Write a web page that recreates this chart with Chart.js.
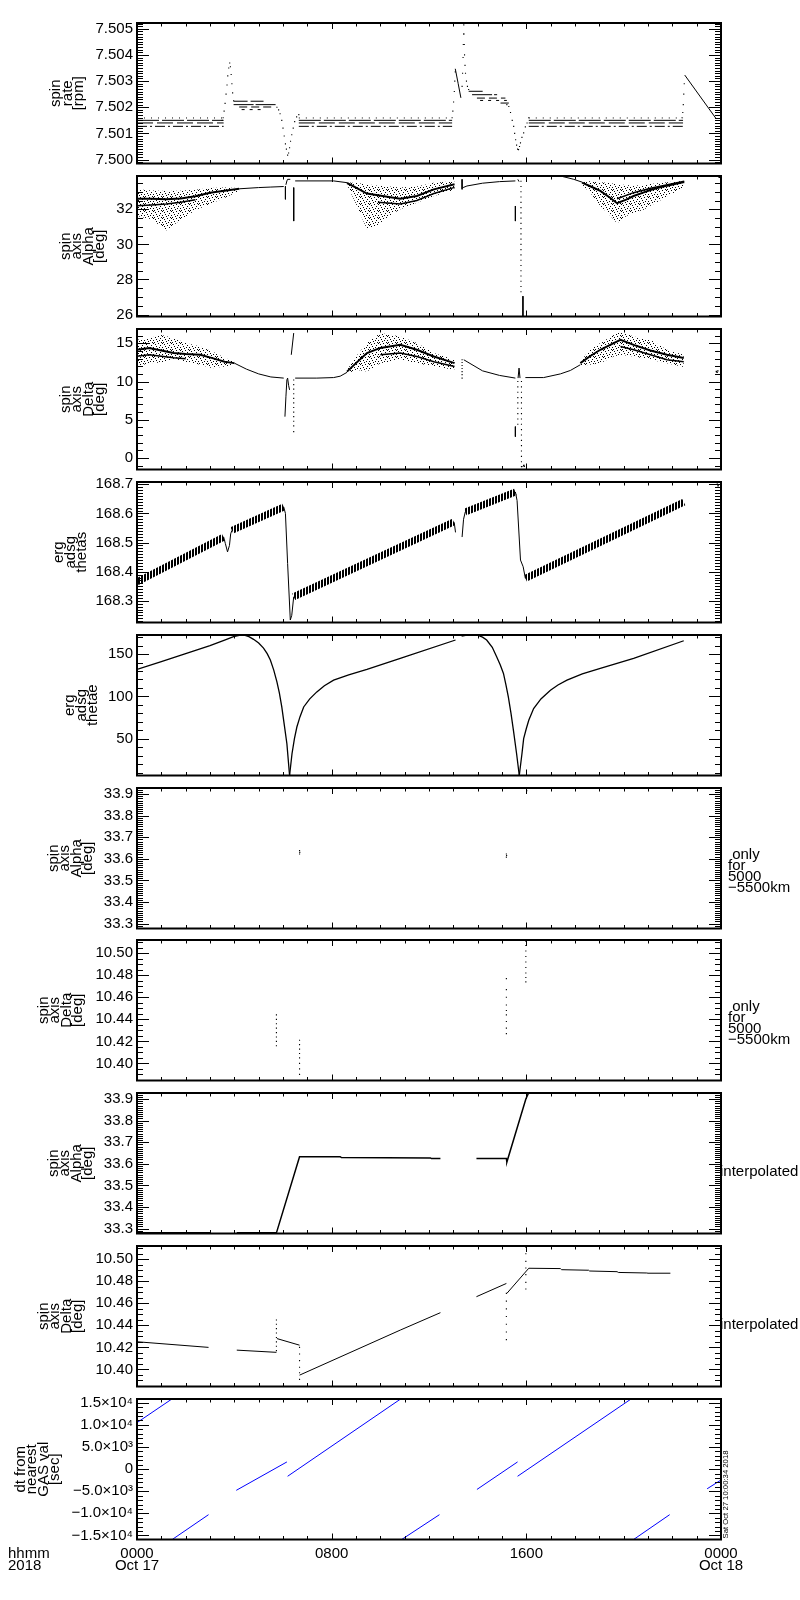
<!DOCTYPE html>
<html>
<head>
<meta charset="utf-8">
<title>ERG spin axis summary 2018-10-17</title>
<script src="https://cdn.jsdelivr.net/npm/chart.js@4.4.0/dist/chart.umd.min.js"></script>
<style>
  html, body { margin: 0; padding: 0; background: #fff; }
  #page { position: relative; width: 800px; height: 1600px; overflow: hidden; background: #fff; }
  #page canvas { position: absolute; left: 0; }
</style>
</head>
<body>
<div id="page"></div>
<script>
// Spin rate / spin axis stack plot, IDL look, redrawn with Chart.js

// ---- time axis (hours since 0000 Oct 17) ----
const HOUR_MIN = 0;
const HOUR_MAX = 24;
const X_MAJOR_HOURS = [0, 8, 16, 24];
const X_TICK_LABELS = [['0000', 'Oct 17'], ['0800'], ['1600'], ['0000', 'Oct 18']];
const X_AXIS_NAME = ['hhmm', '2018'];
const STAMP = 'Sat Oct 27 10:00:34 2018';

// ---- panel 1: spin rate [rpm] ----
const RATE_TICKS = [7.500, 7.501, 7.502, 7.503, 7.504, 7.505];
const RATE_RANGE = [7.49985, 7.50522];
const RATE_BAND_LEVELS = [7.50159, 7.50150, 7.50140, 7.50127];
const RATE_BAND_SPANS = [[0, 3.56], [6.65, 12.95], [16.1, 22.44]];
const RATE_STEP_LEVELS = [7.50223, 7.50210, 7.50201, 7.50191, 7.50261, 7.50248, 7.50235, 7.50226, 7.50216];
const RATE_STEP_SPANS = [[3.97, 5.2], [3.97, 5.75], [4.2, 5.6], [4.3, 5.1], [13.63, 14.3], [13.77, 14.8], [13.97, 15.14], [14.1, 15.2], [14.94, 15.28]];
const RATE_DOTS = [
  [3.50, 7.50150], [3.54, 7.50160], [3.58, 7.50185], [3.62, 7.50215], [3.66, 7.50250], [3.70, 7.50285], [3.73, 7.50320],
  [3.77, 7.50350], [3.81, 7.50369], [3.84, 7.50355], [3.87, 7.50325], [3.90, 7.50290], [3.93, 7.50255], [3.97, 7.50225],
  [5.75, 7.50200], [5.82, 7.50190], [5.88, 7.50175], [5.95, 7.50150], [6.00, 7.50120], [6.05, 7.50090], [6.10, 7.50060],
  [6.14, 7.50040], [6.19, 7.50017], [6.23, 7.50025], [6.27, 7.50045], [6.31, 7.50070], [6.36, 7.50095], [6.42, 7.50120],
  [6.48, 7.50145], [6.56, 7.50163], [6.65, 7.50172],
  [12.95, 7.50160], [12.98, 7.50185], [13.01, 7.50220], [13.04, 7.50260], [13.06, 7.50300], [13.08, 7.50335],
  [13.36, 7.50280], [13.38, 7.50330], [13.40, 7.50390], [13.41, 7.50440], [13.42, 7.50480], [13.43, 7.50515], [13.44, 7.50480],
  [13.45, 7.50440], [13.46, 7.50400], [13.48, 7.50360], [13.50, 7.50330], [13.54, 7.50300], [13.58, 7.50280], [13.63, 7.50268],
  [15.20, 7.50210], [15.28, 7.50203], [15.35, 7.50180], [15.42, 7.50150], [15.48, 7.50127], [15.52, 7.50100], [15.56, 7.50076],
  [15.60, 7.50055], [15.64, 7.50040], [15.68, 7.50038], [15.72, 7.50050], [15.76, 7.50064], [15.82, 7.50085], [15.89, 7.50102],
  [15.96, 7.50125], [16.03, 7.50140], [16.10, 7.50160],
  [22.40, 7.50160], [22.43, 7.50180], [22.45, 7.50210], [22.47, 7.50250], [22.49, 7.50290]
];
const RATE_LINES = [
  [[13.08, 7.50347], [13.20, 7.50290], [13.31, 7.50236]],
  [[22.51, 7.50323], [23.81, 7.50155]]
];

// ---- panel 2: spin axis Alpha [deg] ----
const ALPHA_TICKS = [26, 28, 30, 32];
const ALPHA_RANGE = [25.89, 33.9];
const ALPHA_CLOUD_HOURS = [
  [0, 0.6, 1.2, 1.8, 2.4, 3.0, 3.6, 4.2],
  [8.63, 9.0, 9.45, 9.9, 10.35, 10.82, 11.5, 12.2, 13.05],
  [18.29, 18.65, 19.04, 19.4, 19.73, 20.1, 20.41, 20.8, 21.1, 21.5, 21.8, 22.15, 22.49]
];
const ALPHA_CLOUD_UPPER = [
  [33.14, 33.08, 33.05, 33.06, 33.12, 33.22, 33.25, 33.22],
  [33.55, 33.5, 33.43, 33.35, 33.3, 33.24, 33.3, 33.52, 33.6],
  [33.6, 33.6, 33.55, 33.5, 33.43, 33.38, 33.35, 33.38, 33.45, 33.5, 33.55, 33.6, 33.62]
];
const ALPHA_CLOUD_CORE = [
  [32.6, 32.6, 32.57, 32.62, 32.75, 32.95, 33.06, 33.17],
  [33.5, 33.24, 32.9, 32.8, 32.7, 32.6, 32.76, 33.14, 33.43],
  [33.52, 33.3, 33.05, 32.7, 32.35, 32.55, 32.76, 32.95, 33.1, 33.25, 33.35, 33.45, 33.55]
];
const ALPHA_CLOUD_LOWER = [
  [31.62, 31.43, 30.8, 31.4, 31.95, 32.3, 32.65, 33.05],
  [33.4, 32.3, 30.86, 31.1, 31.6, 32.0, 32.38, 32.76, 33.1],
  [33.4, 32.9, 32.19, 31.7, 31.2, 31.6, 31.81, 31.96, 32.2, 32.5, 32.76, 33.0, 33.3]
];
const ALPHA_STREAKS = [
  [[0, 32.2], [0.6, 32.25], [1.2, 32.3], [1.8, 32.4], [2.4, 32.55]],
  [[9.9, 32.4], [10.82, 32.3], [11.5, 32.5], [12.2, 32.9], [13.05, 33.25]],
  [[19.73, 32.6], [20.41, 32.95], [21.1, 33.2], [21.8, 33.4], [22.49, 33.6]]
];
const ALPHA_LINES = [
  [[4.2, 33.17], [5.0, 33.24], [5.5, 33.27], [6.03, 33.3]],
  [[6.1, 33.31], [6.1, 32.57]],
  [[6.12, 33.4], [6.16, 33.62], [6.19, 33.71], [6.3, 33.71]],
  [[6.44, 33.24], [6.44, 31.33]],
  [[6.5, 33.62], [8.08, 33.62], [8.63, 33.52]],
  [[13.36, 33.71], [13.36, 33.14]],
  [[13.4, 33.24], [13.56, 33.33], [14.2, 33.49], [14.9, 33.58], [15.55, 33.62]],
  [[15.55, 32.19], [15.55, 31.33]],
  [[15.65, 33.71], [15.7, 33.58]],
  [[15.86, 27.05], [15.86, 25.9]],
  [[16.51, 33.9], [17.4, 33.9], [17.67, 33.81], [17.95, 33.71], [18.29, 33.55]]
];
const ALPHA_DOT_HOURS = [15.78];
const ALPHA_DOT_VALUES = [[33.9, 33.6, 33.3, 33.0, 32.7, 32.4, 32.1, 31.8, 31.5, 31.2, 30.9, 30.6, 30.3, 30.0, 29.7, 29.4, 29.1, 28.8, 28.5, 28.2, 27.9, 27.6, 27.3]];
const ALPHA_TAIL = [[23.91, 33.87], [23.93, 33.82]];

// ---- panel 3: spin axis Delta [deg] ----
const DELTA_TICKS = [0, 5, 10, 15];
const DELTA_RANGE = [-1.52, 16.88];
const DELTA_CLOUD_HOURS = [
  [0, 0.5, 1.0, 1.5, 2.0, 2.6, 3.1, 3.6, 4.0],
  [8.63, 9.0, 9.45, 10.0, 10.82, 11.5, 12.2, 13.05],
  [18.22, 18.6, 19.04, 19.59, 19.87, 20.41, 21.1, 21.78, 22.47]
];
const DELTA_CLOUD_UPPER = [
  [15.47, 15.7, 16.1, 15.7, 15.04, 14.59, 13.94, 13.1, 12.6],
  [11.5, 13.28, 15.04, 16.35, 15.91, 15.04, 13.73, 12.85],
  [12.6, 14.16, 15.04, 16.1, 16.56, 15.91, 15.47, 14.16, 13.5]
];
const DELTA_CLOUD_CORE = [
  [14.16, 14.4, 14.07, 13.73, 13.6, 13.5, 13.07, 12.6, 12.41],
  [11.3, 12.41, 13.73, 14.4, 14.8, 14.16, 13.28, 12.41],
  [12.41, 13.28, 14.16, 15.04, 15.47, 14.8, 14.07, 13.5, 13.07]
];
const DELTA_CLOUD_LOWER = [
  [11.97, 12.41, 12.5, 12.85, 12.6, 12.2, 11.75, 11.97, 12.2],
  [11.0, 11.54, 11.31, 12.41, 12.85, 12.41, 11.97, 11.54],
  [12.0, 12.2, 12.41, 13.28, 13.5, 13.28, 12.85, 12.41, 11.9]
];
const DELTA_STREAKS = [
  [[0, 13.3], [0.5, 13.5], [1.0, 13.3], [1.5, 13.1], [2.0, 13.0]],
  [[10.0, 13.5], [10.82, 13.73], [11.5, 13.28], [12.2, 12.6], [13.05, 11.97]],
  [[19.87, 14.59], [20.41, 14.16], [21.1, 13.5], [21.78, 12.85], [22.47, 12.6]]
];
const DELTA_LINES = [
  [[4.0, 12.41], [4.5, 11.62], [5.0, 11.0], [5.5, 10.6], [6.03, 10.45]],
  [[6.08, 5.4], [6.12, 8.0], [6.16, 10.22], [6.19, 10.45], [6.23, 9.5], [6.27, 8.91]],
  [[6.34, 13.5], [6.44, 16.35]],
  [[6.5, 10.45], [7.39, 10.45], [8.08, 10.52], [8.35, 10.7], [8.63, 11.2]],
  [[13.43, 12.85], [14.2, 11.4], [14.9, 10.8], [15.55, 10.45]],
  [[15.55, 4.1], [15.55, 2.78]],
  [[15.66, 10.45], [15.70, 11.76], [15.74, 10.45]],
  [[15.85, -1.2], [15.9, -0.9], [15.93, -1.2]],
  [[15.96, 10.52], [16.71, 10.52], [17.4, 11.0], [17.81, 11.45], [18.22, 12.2]]
];
const DELTA_DOT_HOURS = [6.44, 13.36, 15.65, 15.8];
const DELTA_DOT_VALUES = [
  [10.2, 9.6, 9.0, 8.4, 7.8, 7.2, 6.6, 6.0, 5.4, 4.8, 4.2, 3.44],
  [12.85, 12.5, 12.1, 11.7, 11.3, 10.9, 10.45],
  [10.0, 9.3, 8.6, 7.9, 7.2, 6.5, 5.8, 5.1, 4.4],
  [10.0, 9.3, 8.6, 7.9, 7.2, 6.5, 5.8, 5.1, 4.4, 3.7, 3.0, 2.3, 1.6, 0.9, 0.2, -0.5, -1.15]
];
const DELTA_TAIL = [[23.81, 11.31], [23.84, 11.2], [23.87, 11.4]];

// ---- panel 4: erg adsg thetas ----
const THETAS_TICKS = [168.3, 168.4, 168.5, 168.6, 168.7];
const THETAS_RANGE = [168.2255, 168.708];
const THETAS_BANDS = [
  [[0, 168.365], [3.56, 168.519]],
  [[3.9, 168.542], [6.03, 168.622]],
  [[6.44, 168.314], [13.02, 168.571]],
  [[13.49, 168.605], [15.55, 168.674]],
  [[15.96, 168.377], [22.47, 168.639]]
];
const THETAS_LINKS = [
  [[3.56, 168.519], [3.63, 168.497], [3.72, 168.468], [3.8, 168.49], [3.85, 168.53], [3.9, 168.542]],
  [[6.03, 168.622], [6.1, 168.6], [6.19, 168.428], [6.3, 168.234], [6.36, 168.25], [6.44, 168.314]],
  [[13.02, 168.571], [13.05, 168.56], [13.09, 168.535]],
  [[13.36, 168.519], [13.42, 168.58], [13.49, 168.605]],
  [[15.55, 168.674], [15.62, 168.644], [15.76, 168.44], [15.87, 168.417], [15.96, 168.377]]
];
const THETAS_TAIL = [[23.85, 168.70], [23.88, 168.695]];

// ---- panel 5: erg adsg thetae ----
const THETAE_TICKS = [50, 100, 150];
const THETAE_RANGE = [6.5, 172.5];
const THETAE_CURVES = [
  [[0, 131.8], [1, 141], [2, 150.5], [3, 160], [3.6, 166.5], [3.97, 170.5], [4.2, 172.2], [4.38, 172.5], [4.6, 170.5], [4.79, 167.4],
   [5.0, 163], [5.2, 157], [5.35, 150.5], [5.48, 142.9], [5.62, 131], [5.75, 117.1], [5.85, 104], [5.95, 87.5], [6.05, 67], [6.16, 44], [6.27, 6.5]],
  [[6.27, 6.5], [6.37, 32.2], [6.47, 50], [6.57, 63.8], [6.7, 76], [6.85, 87.5], [7.1, 97], [7.39, 105.3], [7.7, 112.5], [8.08, 119.1],
   [8.7, 125.5], [9.45, 131.8], [10.82, 144.9], [13.09, 166.6]],
  [[13.34, 171.3], [13.56, 172.3], [13.97, 172.5], [14.2, 170], [14.37, 166.6], [14.6, 158], [14.78, 146.8], [14.93, 137], [15.06, 127.1],
   [15.16, 114], [15.26, 99.3], [15.37, 80], [15.47, 59.8], [15.6, 32.2], [15.71, 6.5]],
  [[15.71, 6.5], [15.82, 32.2], [15.89, 50], [16.0, 62], [16.1, 71.7], [16.3, 85.6], [16.6, 97], [16.99, 107.3], [17.3, 113.5],
   [17.67, 119.1], [18.3, 126.5], [19.04, 133], [20.41, 144.9], [22.47, 165.7]]
];

// ---- panels 6/7: only for 5000-5500 km ----
const AXIS_ALPHA_TICKS = [33.3, 33.4, 33.5, 33.6, 33.7, 33.8, 33.9];
const AXIS_ALPHA_RANGE = [33.277, 33.928];
const AXIS_DELTA_TICKS = [10.40, 10.42, 10.44, 10.46, 10.48, 10.50];
const AXIS_DELTA_RANGE = [10.3845, 10.512];
const ONLY_ALPHA_MARKS = [[6.68, 33.638], [6.69, 33.63], [6.68, 33.622], [15.18, 33.622], [15.19, 33.615], [15.18, 33.608], [16.0, 33.926], [16.02, 33.915]];
const ONLY_DELTA_DOT_HOURS = [5.73, 6.68, 15.18, 15.98];
const ONLY_DELTA_DOT_VALUES = [
  [10.444, 10.440, 10.436, 10.432, 10.428, 10.424, 10.420, 10.416],
  [10.421, 10.417, 10.413, 10.409, 10.405, 10.400, 10.395, 10.390],
  [10.477, 10.467, 10.460, 10.453, 10.448, 10.444, 10.438, 10.432, 10.427],
  [10.511, 10.507, 10.502, 10.497, 10.492, 10.487, 10.482, 10.478, 10.474]
];

// ---- panels 8/9: interpolated ----
const INTERP_ALPHA_LINES = [
  [[0, 33.28], [3.0, 33.28]],
  [[4.1, 33.28], [5.73, 33.28], [6.68, 33.633], [8.35, 33.633], [8.4, 33.629], [12.06, 33.627], [12.1, 33.624], [12.47, 33.624]],
  [[13.95, 33.624], [15.18, 33.624], [15.2, 33.608], [15.98, 33.9], [16.1, 33.93], [16.85, 33.93]]
];
const INTERP_DELTA_LINES = [
  [[0, 10.4251], [2.94, 10.420]],
  [[4.1, 10.4175], [5.73, 10.4155]],
  [[5.75, 10.428], [6.68, 10.422]],
  [[6.68, 10.3948], [10.82, 10.4357], [12.47, 10.4515]],
  [[13.95, 10.466], [15.18, 10.478]],
  [[15.2, 10.469], [16.1, 10.4918], [17.4, 10.4915], [17.45, 10.4905], [18.56, 10.490], [18.6, 10.4893], [19.73, 10.4887],
   [19.78, 10.488], [20.95, 10.4875], [21.0, 10.4873], [21.92, 10.4873]]
];
const INTERP_DELTA_DOT_HOURS = [5.73, 6.68, 15.18, 15.98];
const INTERP_DELTA_DOT_VALUES = [
  [10.4448, 10.441, 10.437, 10.433, 10.429, 10.425, 10.421, 10.417],
  [10.420, 10.414, 10.408, 10.402, 10.397, 10.391],
  [10.469, 10.462, 10.455, 10.448, 10.441, 10.434, 10.427],
  [10.511, 10.505, 10.498, 10.492, 10.486, 10.479, 10.473]
];

// ---- panel 10: dt from nearest GAS val [sec] ----
const DT_TICKS = [-15000, -10000, -5000, 0, 5000, 10000, 15000];
const DT_TICK_LABELS = ['\u22121.5\u00d710\u2074', '\u22121.0\u00d710\u2074', '\u22125.0\u00d710\u00b3', '0', '5.0\u00d710\u00b3', '1.0\u00d710\u2074', '1.5\u00d710\u2074'];
const DT_RANGE = [-15907, 15839];
const DT_LINES = [
  [[0, 10500], [1.45, 15900]],
  [[1.45, -15900], [2.94, -10300]],
  [[4.08, -4800], [6.16, 1620]],
  [[6.19, -1620], [10.85, 15900]],
  [[10.88, -15900], [12.43, -10300]],
  [[13.97, -4600], [15.64, 1620]],
  [[15.64, -1620], [20.32, 15900]],
  [[20.41, -15900], [21.89, -10300]],
  [[23.43, -4450], [23.97, -2570]]
];

// ---- layout / style ----
const PANEL_TOP0 = 23.3;
const PANEL_STEP = 152.85;
const PANEL_H = 140.5;
const PLOT_LEFT = 137;
const PLOT_RIGHT = 721;
const FAMILY = '"Liberation Sans", Arial, sans-serif';
const FONT = '15px ' + FAMILY;
const BAND_DASHES = [[1, 6], [22, 3], [16, 4], [10, 3, 2, 3]];
const STEP_DASHES = [[14, 3], [20, 2], [8, 4], [3, 5]];

function makePattern(w, h, cells) {
  const c = document.createElement('canvas');
  c.width = w; c.height = h;
  const g = c.getContext('2d');
  g.fillStyle = '#000';
  cells.forEach(([x, y]) => g.fillRect(x, y, 1, 1));
  return g.createPattern(c, 'repeat');
}
// fixed, irregular dot tile standing in for the scattered samples
const SPECKLE = makePattern(9, 7, [[0, 0], [5, 0], [2, 1], [7, 2], [3, 3], [0, 4], [6, 4], [4, 5], [1, 6], [8, 6]]);
const HATCH = makePattern(3, 1, [[0, 0], [1, 0]]);

// ---- dataset helpers ----
const toXY = pts => pts.map(([x, y]) => ({ x, y }));
function lineDs(pts, extra) {
  return Object.assign({ data: toXY(pts), borderColor: '#000', borderWidth: 1, pointRadius: 0, fill: false, tension: 0 }, extra || {});
}
function dotDs(pts, r) {
  return { data: toXY(pts), showLine: false, pointRadius: r || 0.8, pointStyle: 'rect',
           pointBackgroundColor: '#000', pointBorderWidth: 0, borderColor: 'transparent', borderWidth: 0 };
}
function column(h, values) { return values.map(v => [h, v]); }
function cloudDs(hours, upper, lower) {
  return [
    { data: toXY(hours.map((h, k) => [h, upper[k]])), borderColor: 'transparent', borderWidth: 0, pointRadius: 0, fill: '+1', backgroundColor: SPECKLE },
    { data: toXY(hours.map((h, k) => [h, lower[k]])), borderColor: 'transparent', borderWidth: 0, pointRadius: 0, fill: false }
  ];
}
function scatterPanel(cHours, cUpper, cCore, cLower, streaks, lines, dotHours, dotValues, tail) {
  const ds = [];
  lines.forEach(l => ds.push(lineDs(l)));
  dotHours.forEach((h, k) => ds.push(dotDs(column(h, dotValues[k]))));
  ds.push(dotDs(tail, 1));
  cHours.forEach((hrs, k) => ds.push(lineDs(hrs.map((h, j) => [h, cCore[k][j]]), { borderWidth: 2 })));
  streaks.forEach(s => ds.push(lineDs(s, { borderWidth: 1.5 })));
  cHours.forEach((hrs, k) => ds.push(...cloudDs(hrs, cUpper[k], cLower[k])));
  return ds;
}

// ---- IDL style frame: box, inward ticks, titles, notes ----
function idlFrame(cfg) {
  return {
    id: 'idlFrame',
    afterDraw(chart) {
      const ctx = chart.ctx;
      const a = chart.chartArea;
      const xs = chart.scales.x, ys = chart.scales.y;
      ctx.save();
      ctx.strokeStyle = '#000';
      ctx.fillStyle = '#000';
      ctx.lineWidth = 1;
      ctx.beginPath();
      for (let h = HOUR_MIN; h <= HOUR_MAX; h++) {
        const px = Math.round(xs.getPixelForValue(h)) + 0.5;
        const len = X_MAJOR_HOURS.includes(h) ? 6 : 3.5;
        ctx.moveTo(px, a.top); ctx.lineTo(px, a.top + len);
        ctx.moveTo(px, a.bottom); ctx.lineTo(px, a.bottom - len);
      }
      const step = +(cfg.ticks[1] - cfg.ticks[0]).toPrecision(6);
      const ms = step / cfg.minor;
      const k0 = Math.ceil(ys.min / ms - 1e-6), k1 = Math.floor(ys.max / ms + 1e-6);
      for (let k = k0; k <= k1; k++) {
        const r = k / cfg.minor;
        const major = Math.abs(r - Math.round(r)) < 1e-6;
        const py = Math.round(ys.getPixelForValue(k * ms)) + 0.5;
        const len = major ? 12 : 6;
        ctx.moveTo(a.left, py); ctx.lineTo(a.left + len, py);
        ctx.moveTo(a.right, py); ctx.lineTo(a.right - len, py);
      }
      ctx.stroke();
      ctx.lineWidth = 2;
      ctx.strokeRect(a.left, a.top, a.right - a.left, a.bottom - a.top);

      // rotated multi-line y title
      ctx.font = FONT;
      ctx.textAlign = 'center';
      ctx.textBaseline = 'alphabetic';
      const cy = (a.top + a.bottom) / 2;
      cfg.title.forEach((line, i) => {
        const bx = cfg.titleX - (cfg.title.length - 1 - i) * 11.5;
        ctx.save();
        ctx.translate(bx, cy);
        ctx.rotate(-Math.PI / 2);
        ctx.fillText(line, 0, 0);
        ctx.restore();
      });

      // right side notes
      if (cfg.note) {
        ctx.textAlign = 'left';
        ctx.textBaseline = 'middle';
        cfg.note.forEach((line, j) => ctx.fillText(line, cfg.noteX, a.top + cfg.noteY + j * 11));
      }

      // time labels under the last panel
      if (cfg.xLabels) {
        ctx.textAlign = 'center';
        ctx.textBaseline = 'middle';
        X_MAJOR_HOURS.forEach((h, k) => {
          X_TICK_LABELS[k].forEach((s, j) => ctx.fillText(s, xs.getPixelForValue(h), a.bottom + 14 + j * 12));
        });
        ctx.textAlign = 'left';
        X_AXIS_NAME.forEach((s, j) => ctx.fillText(s, 8, a.bottom + 14 + j * 12));
        ctx.save();
        ctx.translate(a.right + 7, a.bottom - 1);
        ctx.rotate(-Math.PI / 2);
        ctx.font = '8px ' + FAMILY;
        ctx.textBaseline = 'alphabetic';
        ctx.fillText(STAMP, 0, 0, 88);
        ctx.restore();
      }
      ctx.restore();
    }
  };
}

// ---- one chart per panel ----
function addPanel(i, cfg) {
  const top = Math.round(PANEL_TOP0 + i * PANEL_STEP);
  const canvasTop = top - 14;
  const canvasH = i === 9 ? 1600 - canvasTop : 180;
  const cv = document.createElement('canvas');
  cv.width = 800;
  cv.height = canvasH;
  cv.style.top = canvasTop + 'px';
  cv.style.width = '800px';
  cv.style.height = canvasH + 'px';
  document.getElementById('page').appendChild(cv);
  return new Chart(cv, {
    type: 'line',
    data: { datasets: cfg.datasets },
    options: {
      responsive: false,
      animation: false,
      events: [],
      layout: { padding: { top: 14, bottom: canvasH - 14 - PANEL_H, left: 0, right: 800 - PLOT_RIGHT } },
      plugins: { legend: { display: false }, tooltip: { enabled: false } },
      scales: {
        x: { type: 'linear', min: HOUR_MIN, max: HOUR_MAX, display: false },
        y: {
          type: 'linear',
          min: cfg.range[0],
          max: cfg.range[1],
          afterFit: s => { s.width = PLOT_LEFT; },
          afterBuildTicks: s => { s.ticks = cfg.ticks.map(v => ({ value: v })); },
          grid: { display: false, drawTicks: false },
          border: { display: false },
          ticks: { autoSkip: false, padding: 4, color: '#000', font: { family: FAMILY, size: 15 }, callback: cfg.fmt }
        }
      }
    },
    plugins: [idlFrame(cfg)]
  });
}

// panel 1 datasets
const rateSets = [];
RATE_LINES.forEach(l => rateSets.push(lineDs(l)));
rateSets.push(dotDs(RATE_DOTS));
RATE_BAND_SPANS.forEach(([h0, h1]) => {
  RATE_BAND_LEVELS.forEach((v, k) => rateSets.push(lineDs([[h0, v], [h1, v]], { borderDash: BAND_DASHES[k] })));
});
RATE_STEP_LEVELS.forEach((v, k) => {
  const [h0, h1] = RATE_STEP_SPANS[k];
  rateSets.push(lineDs([[h0, v], [h1, v]], { borderDash: STEP_DASHES[k % STEP_DASHES.length] }));
});

// panel 4 datasets
const thetasSets = [];
THETAS_LINKS.forEach(l => thetasSets.push(lineDs(l)));
thetasSets.push(dotDs(THETAS_TAIL, 1));
THETAS_BANDS.forEach(b => thetasSets.push(lineDs(b, { borderWidth: 7, borderColor: HATCH })));

// panel 7 / 9 dots
const onlyDeltaSets = ONLY_DELTA_DOT_HOURS.map((h, k) => dotDs(column(h, ONLY_DELTA_DOT_VALUES[k])));
const interpDeltaSets = INTERP_DELTA_LINES.map(l => lineDs(l))
  .concat(INTERP_DELTA_DOT_HOURS.map((h, k) => dotDs(column(h, INTERP_DELTA_DOT_VALUES[k]))));

const ONLY_NOTE = [' only', 'for', '5000', '\u22125500km'];

addPanel(0, { range: RATE_RANGE, ticks: RATE_TICKS, minor: 10, fmt: v => v.toFixed(3),
  title: ['spin', 'rate', '[rpm]'], titleX: 83, datasets: rateSets });
addPanel(1, { range: ALPHA_RANGE, ticks: ALPHA_TICKS, minor: 4, fmt: v => String(v),
  title: ['spin', 'axis', 'Alpha', '[deg]'], titleX: 104,
  datasets: scatterPanel(ALPHA_CLOUD_HOURS, ALPHA_CLOUD_UPPER, ALPHA_CLOUD_CORE, ALPHA_CLOUD_LOWER, ALPHA_STREAKS, ALPHA_LINES, ALPHA_DOT_HOURS, ALPHA_DOT_VALUES, ALPHA_TAIL) });
addPanel(2, { range: DELTA_RANGE, ticks: DELTA_TICKS, minor: 5, fmt: v => String(v),
  title: ['spin', 'axis', 'Delta', '[deg]'], titleX: 104,
  datasets: scatterPanel(DELTA_CLOUD_HOURS, DELTA_CLOUD_UPPER, DELTA_CLOUD_CORE, DELTA_CLOUD_LOWER, DELTA_STREAKS, DELTA_LINES, DELTA_DOT_HOURS, DELTA_DOT_VALUES, DELTA_TAIL) });
addPanel(3, { range: THETAS_RANGE, ticks: THETAS_TICKS, minor: 10, fmt: v => v.toFixed(1),
  title: ['erg', 'adsg', 'thetas'], titleX: 86, datasets: thetasSets });
addPanel(4, { range: THETAE_RANGE, ticks: THETAE_TICKS, minor: 5, fmt: v => String(v),
  title: ['erg', 'adsg', 'thetae'], titleX: 97, datasets: THETAE_CURVES.map(c => lineDs(c, { borderWidth: 1.3 })) });
addPanel(5, { range: AXIS_ALPHA_RANGE, ticks: AXIS_ALPHA_TICKS, minor: 10, fmt: v => v.toFixed(1),
  title: ['spin', 'axis', 'Alpha', '[deg]'], titleX: 92, datasets: [dotDs(ONLY_ALPHA_MARKS)],
  note: ONLY_NOTE, noteX: 728, noteY: 67 });
addPanel(6, { range: AXIS_DELTA_RANGE, ticks: AXIS_DELTA_TICKS, minor: 4, fmt: v => v.toFixed(2),
  title: ['spin', 'axis', 'Delta', '[deg]'], titleX: 82, datasets: onlyDeltaSets,
  note: ONLY_NOTE, noteX: 728, noteY: 67 });
addPanel(7, { range: AXIS_ALPHA_RANGE, ticks: AXIS_ALPHA_TICKS, minor: 10, fmt: v => v.toFixed(1),
  title: ['spin', 'axis', 'Alpha', '[deg]'], titleX: 92, datasets: INTERP_ALPHA_LINES.map(l => lineDs(l, { borderWidth: 1.5 })),
  note: ['interpolated'], noteX: 720, noteY: 79 });
addPanel(8, { range: AXIS_DELTA_RANGE, ticks: AXIS_DELTA_TICKS, minor: 4, fmt: v => v.toFixed(2),
  title: ['spin', 'axis', 'Delta', '[deg]'], titleX: 82, datasets: interpDeltaSets,
  note: ['interpolated'], noteX: 720, noteY: 79 });
addPanel(9, { range: DT_RANGE, ticks: DT_TICKS, minor: 5, fmt: (v, i) => DT_TICK_LABELS[i],
  title: ['dt from', 'nearest', 'GAS val', '[sec]'], titleX: 59,
  datasets: DT_LINES.map(l => lineDs(l, { borderColor: '#0000ff' })), xLabels: true });
</script>
</body>
</html>
